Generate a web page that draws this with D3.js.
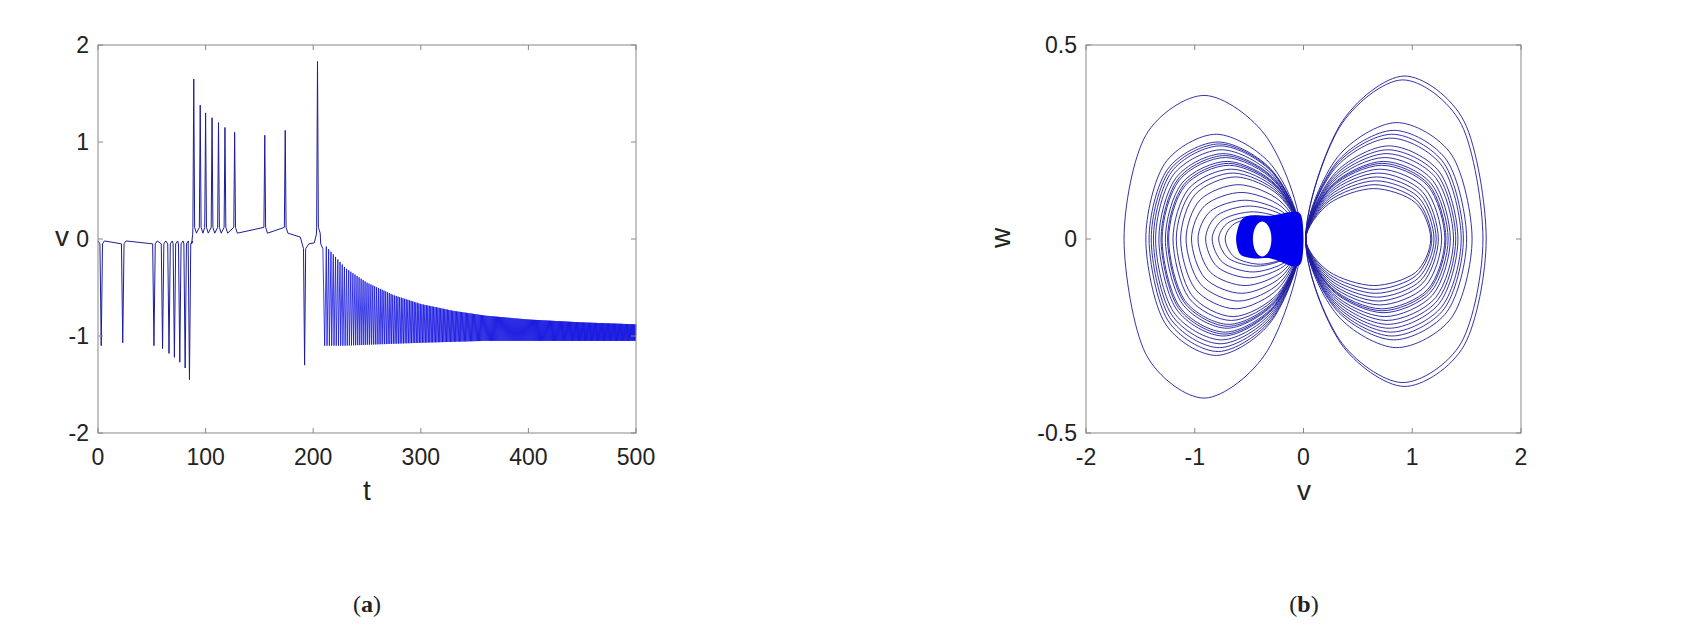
<!DOCTYPE html><html><head><meta charset="utf-8">
<script src="https://cdn.jsdelivr.net/npm/d3@7"></script>
<style>body{margin:0;background:#fff}text{font-family:"Liberation Sans",Arial,sans-serif;fill:#222}</style></head><body>
<svg id="c" width="1700" height="644"></svg>
<script>
// ---- panel (a) data ----
const tTicks=[0,100,200,300,400,500], vTicks=[-2,-1,0,1,2];
const downSpikes=[[3,-1.1],[23,-1.07],[52,-1.1],[60,-1.13],[66,-1.18],[71,-1.22],[76,-1.27],[81,-1.33],[85,-1.45],[192,-1.3]];
const upSpikes=[[89,1.65],[95,1.38],[100,1.3],[106,1.25],[112,1.2],[118,1.15],[127,1.1],[155,1.07],[174,1.12],[204,1.83]];
const envT=[210,230,250,275,300,330,360,400,450,500];
const envUpper=[-0.05,-0.3,-0.45,-0.58,-0.67,-0.74,-0.79,-0.83,-0.86,-0.88];
const envLower=[-1.1,-1.1,-1.09,-1.08,-1.07,-1.06,-1.05,-1.05,-1.05,-1.05];
const envPeriod=[2.2,2.0,1.8,1.6,1.4,1.2,1.0,0.9,0.8,0.8];
// ---- panel (b) data ----
const vTicksB=[-2,-1,0,1,2], wTicksB=[-0.5,0,0.5];
const leftLobes=[[-1.65,0.37,-0.41],[-1.45,0.27,-0.3],[-1.42,0.25,-0.29],[-1.4,0.245,-0.28],[-1.38,0.24,-0.27],[-1.36,0.23,-0.26],[-1.33,0.22,-0.25],[-1.31,0.215,-0.245],[-1.3,0.21,-0.24],[-1.27,0.2,-0.23],[-1.25,0.195,-0.225],[-1.24,0.19,-0.22],[-1.2,0.18,-0.21],[-1.17,0.17,-0.2],[-1.13,0.16,-0.18],[-1.08,0.14,-0.16],[-1.03,0.12,-0.14],[-0.97,0.1,-0.12],[-0.9,0.085,-0.1],[-0.84,0.07,-0.085],[-0.78,0.06,-0.07],[-0.72,0.055,-0.065]];
const rightLobes=[[1.68,0.42,-0.38],[1.65,0.41,-0.37],[1.55,0.3,-0.28],[1.5,0.28,-0.26],[1.47,0.27,-0.25],[1.45,0.26,-0.24],[1.42,0.24,-0.23],[1.4,0.23,-0.22],[1.38,0.22,-0.21],[1.35,0.21,-0.2],[1.33,0.2,-0.19],[1.31,0.195,-0.185],[1.3,0.19,-0.18],[1.27,0.18,-0.17],[1.24,0.17,-0.16],[1.22,0.16,-0.15],[1.2,0.15,-0.14],[1.18,0.14,-0.13],[1.17,0.13,-0.12]];
const coreOutline=[[-0.62,0.0],[-0.58,0.045],[-0.5,0.06],[-0.3,0.06],[-0.1,0.07],[-0.02,0.06],[0.0,0.0],[-0.02,-0.06],[-0.1,-0.07],[-0.3,-0.05],[-0.45,-0.05],[-0.58,-0.04]];
const holeC=[-0.38,0.0], holeR=[0.085,0.045];

const svg=d3.select("#c");
const col="#1c1c9c";
function frame(g,x,y,xt,yt){
  const [x0,x1]=x.range(),[y0,y1]=y.range();
  g.append("rect").attr("x",x0).attr("y",y1).attr("width",x1-x0).attr("height",y0-y1).attr("fill","none").attr("stroke","#888").attr("stroke-width",1);
  xt.forEach(v=>{g.append("line").attr("x1",x(v)).attr("x2",x(v)).attr("y1",y0).attr("y2",y0-5).attr("stroke","#888");
    g.append("line").attr("x1",x(v)).attr("x2",x(v)).attr("y1",y1).attr("y2",y1+5).attr("stroke","#888");
    g.append("text").attr("x",x(v)).attr("y",y0+32).attr("text-anchor","middle").attr("font-size",23).text(v);});
  yt.forEach(v=>{g.append("line").attr("x1",x0).attr("x2",x0+5).attr("y1",y(v)).attr("y2",y(v)).attr("stroke","#888");
    g.append("line").attr("x1",x1).attr("x2",x1-5).attr("y1",y(v)).attr("y2",y(v)).attr("stroke","#888");
    g.append("text").attr("x",x0-9).attr("y",y(v)+8).attr("text-anchor","end").attr("font-size",23).text(v);});
}
const xa=d3.scaleLinear().domain([0,500]).range([98,636]);
const ya=d3.scaleLinear().domain([-2,2]).range([433,45]);
const ga=svg.append("g");
const line=d3.line().x(d=>xa(d[0])).y(d=>ya(d[1]));
let pts=[[0,-0.02]];
downSpikes.filter(s=>s[0]<90).forEach(s=>{pts.push([s[0]-1.2,-0.05],[s[0],s[1]],[s[0]+1.2,-0.05],[s[0]+3,-0.02]);});
pts.push([87,-0.05],[88,0.05]);
upSpikes.forEach(s=>{
  if(s[0]===204){pts.push([188,0.02],[191,-0.1],[192,-1.3],[193,-0.1],[196,-0.05],[201,-0.04],[203,0.05]);}
  pts.push([s[0]-0.8,0.12],[s[0],s[1]],[s[0]+0.8,0.12],[s[0]+2.5,0.06]);
});
pts.push([207,-0.05],[209,-0.1]);
ga.append("path").attr("d",line(pts)).attr("fill","none").attr("stroke",col).attr("stroke-width",1);
const up=d3.scaleLinear().domain(envT).range(envUpper), lo=d3.scaleLinear().domain(envT).range(envLower), per=d3.scaleLinear().domain(envT).range(envPeriod);
let osc=[[209,-0.1]];
for(let t=210;t<500;){const p=per(t);osc.push([t+0.3*p,lo(t)],[t+p,up(t+p)]);t+=p;}
ga.append("path").attr("d",line(osc)).attr("fill","none").attr("stroke","#1010e0").attr("stroke-width",0.8);
frame(ga,xa,ya,tTicks,vTicks);
ga.append("text").attr("x",62).attr("y",246).attr("text-anchor","middle").attr("font-size",28).text("v");
ga.append("text").attr("x",367).attr("y",500).attr("text-anchor","middle").attr("font-size",28).text("t");
const xb=d3.scaleLinear().domain([-2,2]).range([1086,1521]);
const yb=d3.scaleLinear().domain([-0.5,0.5]).range([433,45]);
const gb=svg.append("g");
const cl=d3.line().x(d=>xb(d[0])).y(d=>yb(d[1])).curve(d3.curveCardinalClosed.tension(0.1));
function lobe(a,h,l,s){return [[0.02*s,0.0],[0.2*a*s,0.7*h],[0.55*a*s,h],[0.88*a*s,0.72*h],[a*s,0],[0.88*a*s,-0.72*l],[0.55*a*s,-l],[0.2*a*s,-0.7*l]];}
leftLobes.forEach(d=>gb.append("path").attr("d",cl(lobe(-d[0],d[1],-d[2],-1))).attr("fill","none").attr("stroke",col).attr("stroke-width",0.9));
rightLobes.forEach(d=>gb.append("path").attr("d",cl(lobe(d[0],d[1],-d[2],1))).attr("fill","none").attr("stroke",col).attr("stroke-width",0.9));
const ellipse=d3.range(0,360,15).map(a=>[holeC[0]+holeR[0]*Math.cos(a*Math.PI/180),holeC[1]+holeR[1]*Math.sin(a*Math.PI/180)]);
gb.append("path").attr("d",cl(coreOutline)+cl(ellipse)).attr("fill","#0000ee").attr("fill-rule","evenodd");
frame(gb,xb,yb,vTicksB,wTicksB);
gb.append("text").attr("transform","translate(1010,238) rotate(-90)").attr("text-anchor","middle").attr("font-size",28).text("w");
gb.append("text").attr("x",1304).attr("y",500).attr("text-anchor","middle").attr("font-size",28).text("v");
svg.append("text").attr("x",367).attr("y",612).attr("text-anchor","middle").attr("font-size",24).style("font-family","Liberation Serif").html('(<tspan font-weight="bold">a</tspan>)');
svg.append("text").attr("x",1304).attr("y",612).attr("text-anchor","middle").attr("font-size",24).style("font-family","Liberation Serif").html('(<tspan font-weight="bold">b</tspan>)');
</script></body></html>
